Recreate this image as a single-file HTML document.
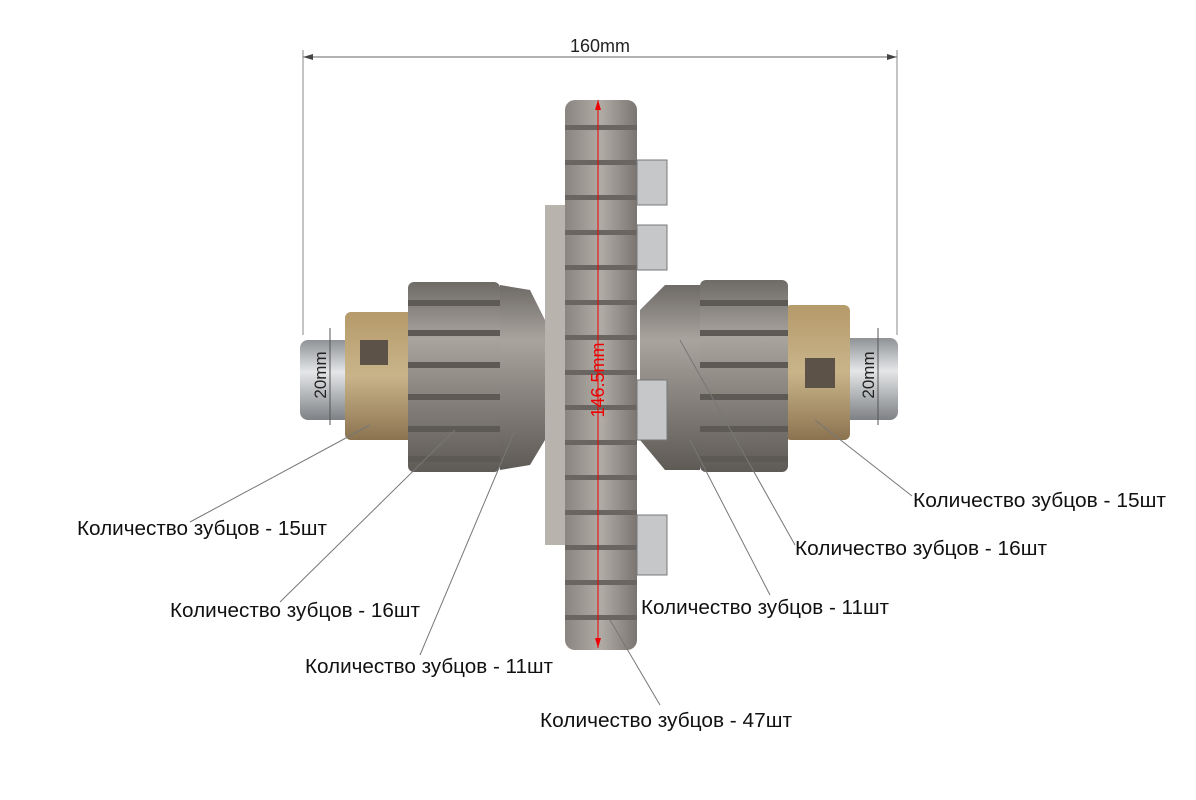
<!DOCTYPE html>
<html><head><meta charset="utf-8"><style>
html,body{margin:0;padding:0;background:#fff;}
svg{display:block;}
text{font-family:"Liberation Sans",sans-serif;}
</style></head><body>
<svg width="1196" height="800" viewBox="0 0 1196 800" xmlns="http://www.w3.org/2000/svg">
<defs>
<linearGradient id="gv" x1="0" y1="0" x2="0" y2="1">
<stop offset="0" stop-color="#6e6a66"/><stop offset="0.3" stop-color="#a9a49e"/><stop offset="0.55" stop-color="#8d8882"/><stop offset="1" stop-color="#5e5a56"/></linearGradient>
<linearGradient id="gh" x1="0" y1="0" x2="1" y2="0">
<stop offset="0" stop-color="#8a8580"/><stop offset="0.5" stop-color="#b0aba5"/><stop offset="1" stop-color="#7a7570"/></linearGradient>
<linearGradient id="rust" x1="0" y1="0" x2="0" y2="1">
<stop offset="0" stop-color="#b59a6a"/><stop offset="0.5" stop-color="#c9b48a"/><stop offset="1" stop-color="#8b7350"/></linearGradient>
<linearGradient id="steel" x1="0" y1="0" x2="0" y2="1">
<stop offset="0" stop-color="#8f9296"/><stop offset="0.4" stop-color="#e4e6e8"/><stop offset="1" stop-color="#7e8185"/></linearGradient>
</defs>
<rect width="1196" height="800" fill="#fff"/>
<line x1="303" y1="57" x2="897" y2="57" stroke="#666" stroke-width="1"/>
<line x1="303" y1="50" x2="303" y2="335" stroke="#888" stroke-width="1"/>
<line x1="897" y1="50" x2="897" y2="335" stroke="#888" stroke-width="1"/>
<polygon points="303,57 313,54 313,60" fill="#444"/>
<polygon points="897,57 887,54 887,60" fill="#444"/>
<text x="600" y="52" font-size="18" text-anchor="middle" fill="#222">160mm</text>
<rect x="300" y="340" width="60" height="80" rx="8" fill="url(#steel)"/>
<rect x="840" y="338" width="58" height="82" rx="8" fill="url(#steel)"/>
<rect x="345" y="312" width="70" height="128" rx="6" fill="url(#rust)"/>
<rect x="785" y="305" width="65" height="135" rx="6" fill="url(#rust)"/>
<rect x="360" y="340" width="28" height="25" fill="#5c5248"/>
<rect x="805" y="358" width="30" height="30" fill="#5c5248"/>
<rect x="408" y="282" width="92" height="190" rx="6" fill="url(#gv)"/>
<g fill="#5d5955">
<rect x="408" y="300" width="92" height="6"/><rect x="408" y="330" width="92" height="6"/><rect x="408" y="362" width="92" height="6"/><rect x="408" y="394" width="92" height="6"/><rect x="408" y="426" width="92" height="6"/><rect x="408" y="456" width="92" height="6"/></g>
<polygon points="500,285 530,290 545,320 545,440 530,465 500,470" fill="url(#gv)"/>
<polygon points="640,310 665,285 700,285 700,470 665,470 640,440" fill="url(#gv)"/>
<rect x="700" y="280" width="88" height="192" rx="6" fill="url(#gv)"/>
<g fill="#5d5955">
<rect x="700" y="300" width="88" height="6"/><rect x="700" y="330" width="88" height="6"/><rect x="700" y="362" width="88" height="6"/><rect x="700" y="394" width="88" height="6"/><rect x="700" y="426" width="88" height="6"/><rect x="700" y="456" width="88" height="6"/></g>
<rect x="545" y="205" width="20" height="340" fill="#b8b3ad"/>
<rect x="565" y="100" width="72" height="550" rx="10" fill="url(#gh)"/>
<g fill="#6a6560">
<rect x="565" y="125" width="72" height="5"/><rect x="565" y="160" width="72" height="5"/><rect x="565" y="195" width="72" height="5"/><rect x="565" y="230" width="72" height="5"/><rect x="565" y="265" width="72" height="5"/><rect x="565" y="300" width="72" height="5"/><rect x="565" y="335" width="72" height="5"/><rect x="565" y="370" width="72" height="5"/><rect x="565" y="405" width="72" height="5"/><rect x="565" y="440" width="72" height="5"/><rect x="565" y="475" width="72" height="5"/><rect x="565" y="510" width="72" height="5"/><rect x="565" y="545" width="72" height="5"/><rect x="565" y="580" width="72" height="5"/><rect x="565" y="615" width="72" height="5"/></g>
<g fill="#c5c7c9" stroke="#777"><rect x="637" y="160" width="30" height="45"/><rect x="637" y="225" width="30" height="45"/><rect x="637" y="380" width="30" height="60"/><rect x="637" y="515" width="30" height="60"/></g>
<line x1="598" y1="100" x2="598" y2="648" stroke="#e00" stroke-width="1"/>
<polygon points="598,100 595,110 601,110" fill="#e00"/>
<polygon points="598,648 595,638 601,638" fill="#e00"/>
<text transform="translate(604,380) rotate(-90)" font-size="18" text-anchor="middle" fill="#e00">146.5mm</text>
<line x1="330" y1="328" x2="330" y2="425" stroke="#555"/>
<line x1="878" y1="328" x2="878" y2="425" stroke="#555"/>
<text transform="translate(326,375) rotate(-90)" font-size="17" text-anchor="middle" fill="#222">20mm</text>
<text transform="translate(874,375) rotate(-90)" font-size="17" text-anchor="middle" fill="#222">20mm</text>
<g stroke="#777" stroke-width="1">
<line x1="190" y1="522" x2="370" y2="425"/>
<line x1="280" y1="602" x2="455" y2="430"/>
<line x1="420" y1="655" x2="515" y2="430"/>
<line x1="660" y1="705" x2="610" y2="620"/>
<line x1="912" y1="496" x2="815" y2="420"/>
<line x1="795" y1="545" x2="680" y2="340"/>
<line x1="770" y1="595" x2="690" y2="440"/>
</g>
<g font-size="20" fill="#111" lengthAdjust="spacingAndGlyphs">
<text x="77" y="535" textLength="250" lengthAdjust="spacingAndGlyphs">Количество зубцов - 15шт</text>
<text x="170" y="617" textLength="250" lengthAdjust="spacingAndGlyphs">Количество зубцов - 16шт</text>
<text x="305" y="673" textLength="248" lengthAdjust="spacingAndGlyphs">Количество зубцов - 11шт</text>
<text x="540" y="727" textLength="252" lengthAdjust="spacingAndGlyphs">Количество зубцов - 47шт</text>
<text x="913" y="507" textLength="253" lengthAdjust="spacingAndGlyphs">Количество зубцов - 15шт</text>
<text x="795" y="555" textLength="252" lengthAdjust="spacingAndGlyphs">Количество зубцов - 16шт</text>
<text x="641" y="614" textLength="248" lengthAdjust="spacingAndGlyphs">Количество зубцов - 11шт</text>
</g>
</svg>
</body></html>
